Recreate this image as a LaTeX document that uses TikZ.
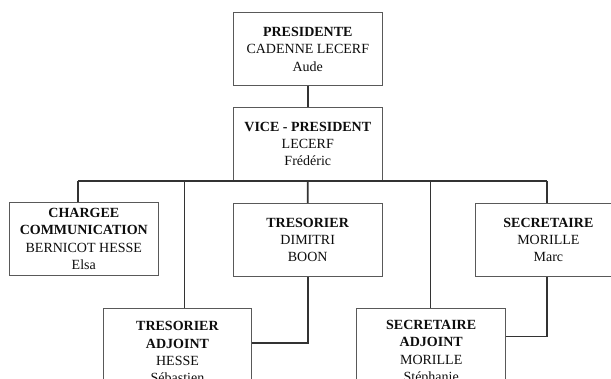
\documentclass[tikz,border=0pt]{standalone}
\usepackage{fontspec}
\setmainfont{Liberation Serif}
\begin{document}
\begin{tikzpicture}[x=1pt,y=-1pt,
  orgbox/.style={draw=black!65, line width=0.8pt, rectangle, align=center, inner sep=0pt,
    font=\fontsize{14}{17.3}\selectfont, text=black!95},
  conn/.style={draw=black!80, line width=1.6pt}]
\useasboundingbox (0,0) rectangle (611,379);
\clip (0,0) rectangle (611,379);
\fill[white] (0,0) rectangle (611,379);

\node[orgbox, minimum width=149.6pt, minimum height=73pt] (pres) at (307.8,49.2)
  {\textbf{PRESIDENTE}\\CADENNE LECERF\\Aude};
\node[orgbox, minimum width=149.6pt, minimum height=73pt] (vice) at (307.8,143.9)
  {\textbf{VICE - PRESIDENT}\\LECERF\\Frédéric};
\node[orgbox, minimum width=148.8pt, minimum height=73.7pt] (charg) at (83.8,238.9)
  {\textbf{CHARGEE}\\\textbf{COMMUNICATION}\\BERNICOT HESSE\\Elsa};
\node[orgbox, minimum width=149.3pt, minimum height=73.4pt] (treso) at (307.7,240)
  {\textbf{TRESORIER}\\DIMITRI\\BOON};
\node[orgbox, minimum width=146pt, minimum height=73.4pt] (secr) at (548.4,240)
  {\textbf{SECRETAIRE}\\MORILLE\\Marc};
\node[orgbox, minimum width=148.4pt, minimum height=88pt] (ta) at (177.5,352.3)
  {\textbf{TRESORIER}\\\textbf{ADJOINT}\\HESSE\\Sébastien};
\node[orgbox, minimum width=149.2pt, minimum height=88pt] (sa) at (431.2,352.3)
  {\textbf{SECRETAIRE}\\\textbf{ADJOINT}\\MORILLE\\Stéphanie};

\coordinate (busL) at (77.9,181);
\coordinate (busR) at (546.7,181);
\coordinate (bTA) at (184.3,181);
\coordinate (bSA) at (430.6,181);

\draw[conn] (pres.south) -- (vice.north);
\draw[conn] (busL) -- (busR);
\draw[conn] (busL) -- (busL |- charg.north);
\draw[conn] (vice.south) -- (treso.north);
\draw[conn] (busR) -- (busR |- secr.north);
\draw[conn] (bTA) -- (bTA |- ta.north);
\draw[conn] (bSA) -- (bSA |- sa.north);
\draw[conn] (treso.south) |- ([yshift=9pt]ta.east);
\draw[conn] ([xshift=-1.7pt]secr.south) |- ([yshift=15.6pt]sa.east);
\end{tikzpicture}
\end{document}
